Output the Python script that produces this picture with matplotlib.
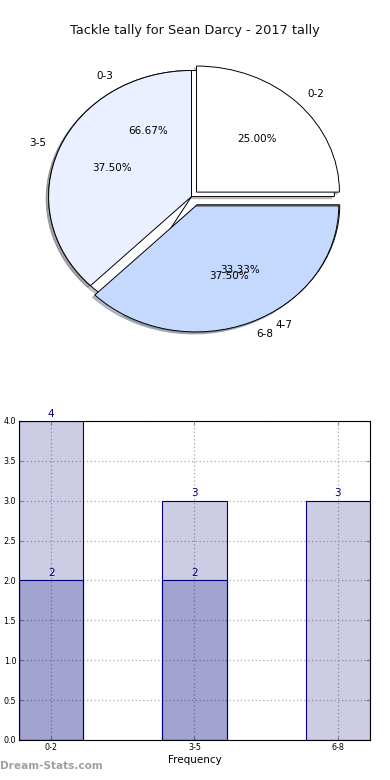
import numpy as np
import matplotlib
matplotlib.use("Agg")
import matplotlib.pyplot as plt

# pie data (two overlaid pies as in the source chart)
pie_labels = ["0-2", "3-5", "6-8"]
pie_values = [2, 3, 3]
pie2_labels = ["0-3", "4-7"]
pie2_values = [2, 1]

# bar data
bar_labels = ["0-2", "3-5", "6-8"]
bar_total = [4, 3, 3]
bar_inner = [2, 2]

title = "Tackle tally for Sean Darcy - 2017 tally"

fig = plt.figure(figsize=(3.9, 7.8), dpi=100)
fig.text(0.5, 0.961, title, ha="center", va="center", fontsize=9.3, color="#111111")

# ---- pie ----
shadow = {"ox": -0.012, "oy": -0.012, "shade": 0.45}
ax1 = fig.add_axes([0.033, 0.546, 0.916, 0.404])
w2, t2, p2 = ax1.pie(pie2_values, labels=pie2_labels, autopct="%.2f%%",
                     explode=[0, 0.075], colors=["white", "white"], shadow=shadow,
                     wedgeprops=dict(edgecolor="black", linewidth=0.7),
                     textprops=dict(fontsize=7.5))
w1, t1, p1 = ax1.pie(pie_values, labels=pie_labels, autopct="%.2f%%",
                     explode=[0.05, 0, 0.08],
                     colors=["white", "#eaf0ff", "#c5d9ff"], shadow=shadow,
                     wedgeprops=dict(edgecolor="black", linewidth=0.7),
                     textprops=dict(fontsize=7.5))
ax1.set_aspect("auto")
ax1.set_xlim(-1.25, 1.25)
ax1.set_ylim(-1.25, 1.25)
ax1.axis("off")

# ---- bars ----
ax2 = fig.add_axes([0.0487, 0.0513, 0.9, 0.409])
x = np.arange(len(bar_labels))
width = 0.45
fill = (0, 0, 0.5, 0.2)
b1 = ax2.bar(x, bar_total, width, align="edge", color=fill, edgecolor="navy",
             linewidth=0.8, zorder=2)
b2 = ax2.bar(x[:len(bar_inner)], bar_inner, width, align="edge", color=fill,
             edgecolor="navy", linewidth=0.8, zorder=2)
for bars in (b1, b2):
    for r in bars:
        ax2.text(r.get_x() + r.get_width() / 2, r.get_height() + 0.03,
                 "%d" % r.get_height(), ha="center", va="bottom",
                 fontsize=7.5, color="navy")

ax2.set_xlim(0, 2.45)
ax2.set_ylim(0, 4.0)
ax2.set_xticks(x + width / 2)
ax2.set_xticklabels(bar_labels, fontsize=5.8)
ax2.set_yticks(np.arange(0, 4.01, 0.5))
ax2.set_yticklabels(["%.1f" % v for v in np.arange(0, 4.01, 0.5)], fontsize=5.8)
ax2.tick_params(direction="in", length=3, top=True, right=True, color="#999999", pad=2)
ax2.grid(True, linestyle=(0, (1, 2)), color="#aaaaaa", linewidth=0.9, zorder=0)
ax2.set_axisbelow(True)
for s in ax2.spines.values():
    s.set_linewidth(0.8)
ax2.set_xlabel("Frequency", fontsize=7.5, labelpad=2)

fig.text(0.0, 0.012, "Dream-Stats.com", fontsize=7.6, color="#a0a0a0",
         fontweight="bold", ha="left", va="bottom")

fig.savefig("out.png", dpi=100)
